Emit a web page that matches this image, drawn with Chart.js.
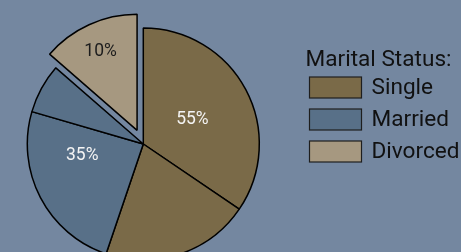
<!DOCTYPE html>
<html>
<head>
<meta charset="utf-8">
<script src="https://cdn.jsdelivr.net/npm/chart.js@4.4.1/dist/chart.umd.min.js"></script>
<style>
  html, body { margin: 0; padding: 0; background: #7487a0; overflow: hidden; }
  #wrap { position: relative; width: 461px; height: 252px; }
</style>
</head>
<body>
<div id="wrap"><canvas id="c" width="461" height="252"></canvas></div>
<script>
// ---- data ----
const legendTitle = 'Marital Status:';
const categories = ['Single', 'Married', 'Divorced'];
const percentLabels = ['55%', '35%', '10%'];
// the pie is drawn as five wedges; each wedge belongs to one category
const sliceCategory = [0, 0, 1, 1, 2];
const sliceValues = [34.5, 20.7, 24.3, 6.9, 13.6];

// ---- styles ----
const categoryColors = ['#7a6a48', '#587088', '#a69880'];
const categoryExplode = [0, 0, 15];
const labelColors = ['#f4f4f4', '#f4f4f4', '#1c1c1c'];
// label placement: fraction along the category's angular span, fraction of radius
const labelAlong = [0.311, 0.55, 0.5];
const labelRadial = [0.48, 0.534, 0.76];

// move exploded wedges outward along their mid angle (keeps their radius)
const explodePlugin = {
  id: 'explode',
  afterDatasetsUpdate(chart) {
    const arcs = chart.getDatasetMeta(0).data;
    categories.forEach((cat, ci) => {
      const d = categoryExplode[ci];
      if (!d) return;
      const idx = sliceCategory.map((c, i) => c === ci ? i : -1).filter(i => i >= 0);
      const a0 = arcs[idx[0]].startAngle, a1 = arcs[idx[idx.length - 1]].endAngle;
      const mid = (a0 + a1) / 2;
      idx.forEach(i => {
        arcs[i].x += Math.cos(mid) * d;
        arcs[i].y += Math.sin(mid) * d;
      });
    });
  }
};

const labelPlugin = {
  id: 'pctLabels',
  afterDatasetsDraw(chart) {
    const arcs = chart.getDatasetMeta(0).data;
    const ctx = chart.ctx;
    const size = 17.5;
    ctx.save();
    ctx.font = size + 'px Roboto';
    ctx.textAlign = 'center';
    ctx.textBaseline = 'alphabetic';
    categories.forEach((cat, ci) => {
      const idx = sliceCategory.map((c, i) => c === ci ? i : -1).filter(i => i >= 0);
      const first = arcs[idx[0]], last = arcs[idx[idx.length - 1]];
      const a0 = first.startAngle, a1 = last.endAngle;
      const ang = a0 + (a1 - a0) * labelAlong[ci];
      const r = first.outerRadius * labelRadial[ci];
      ctx.fillStyle = labelColors[ci];
      ctx.fillText(percentLabels[ci], first.x + Math.cos(ang) * r,
                   first.y + Math.sin(ang) * r + size * 0.711 / 2);
    });
    ctx.restore();
  }
};

const legendPlugin = {
  id: 'sideLegend',
  afterDraw(chart) {
    const ctx = chart.ctx;
    ctx.save();
    ctx.font = '22.6px Roboto';
    ctx.fillStyle = '#111';
    ctx.textAlign = 'left';
    ctx.textBaseline = 'alphabetic';
    ctx.fillText(legendTitle, 305.5, 66);
    categories.forEach((cat, i) => {
      const y = 77 + i * 32;
      ctx.fillStyle = categoryColors[i];
      ctx.fillRect(309.5, y, 52, 21);
      ctx.strokeStyle = '#1e1e1e';
      ctx.lineWidth = 1.2;
      ctx.strokeRect(309.5, y, 52, 21);
      ctx.fillStyle = '#111';
      ctx.textBaseline = 'middle';
      ctx.fillText(cat, 371.5, y + 11.5);
      ctx.textBaseline = 'alphabetic';
    });
    ctx.restore();
  }
};

new Chart(document.getElementById('c'), {
  type: 'pie',
  data: {
    labels: sliceCategory.map(c => categories[c]),
    datasets: [{
      data: sliceValues,
      backgroundColor: sliceCategory.map(c => categoryColors[c]),
      borderColor: '#000',
      borderWidth: 1.5,
      clip: false
    }]
  },
  options: {
    responsive: false,
    animation: false,
    radius: 116,
    layout: { padding: { left: 0, right: 174.4, top: 36, bottom: 0 } },
    plugins: {
      legend: { display: false },
      tooltip: { enabled: false }
    }
  },
  plugins: [explodePlugin, labelPlugin, legendPlugin]
});
</script>
</body>
</html>
